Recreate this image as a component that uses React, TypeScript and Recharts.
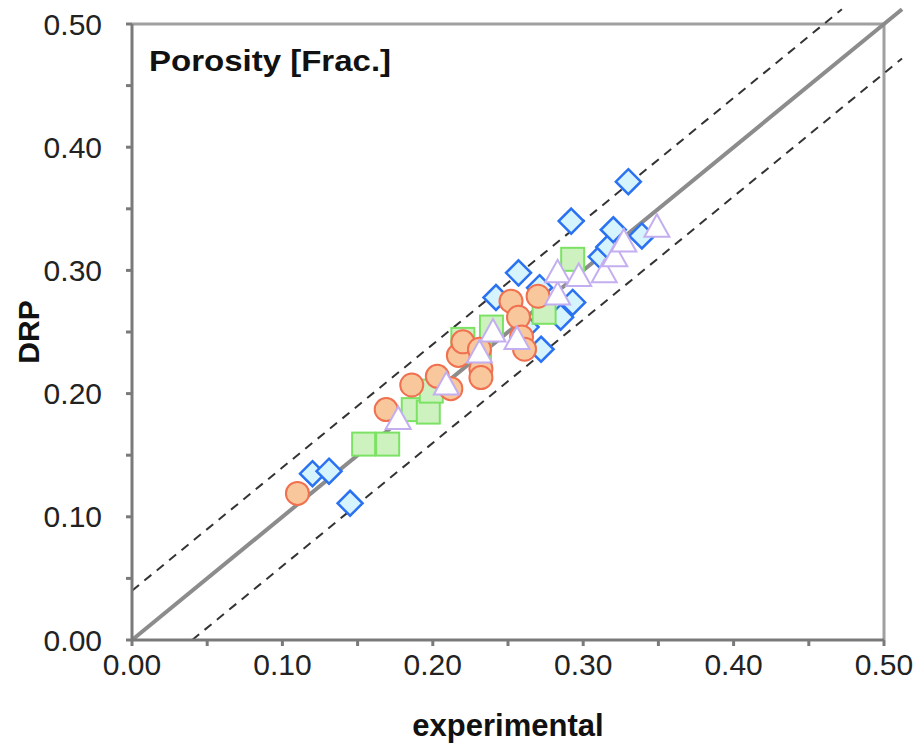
import {
  ScatterChart,
  Scatter,
  XAxis,
  YAxis,
  ReferenceLine,
} from "recharts";

// experimental vs DRP porosity
const circles = [
  { x: 0.11, y: 0.119 },
  { x: 0.169, y: 0.187 },
  { x: 0.186, y: 0.207 },
  { x: 0.203, y: 0.214 },
  { x: 0.212, y: 0.204 },
  { x: 0.217, y: 0.231 },
  { x: 0.22, y: 0.242 },
  { x: 0.231, y: 0.236 },
  { x: 0.232, y: 0.22 },
  { x: 0.232, y: 0.213 },
  { x: 0.252, y: 0.275 },
  { x: 0.257, y: 0.262 },
  { x: 0.259, y: 0.246 },
  { x: 0.261, y: 0.236 },
  { x: 0.27, y: 0.279 },
];

const squares = [
  { x: 0.154, y: 0.159 },
  { x: 0.17, y: 0.159 },
  { x: 0.187, y: 0.187 },
  { x: 0.197, y: 0.185 },
  { x: 0.199, y: 0.202 },
  { x: 0.22, y: 0.244 },
  { x: 0.231, y: 0.234 },
  { x: 0.239, y: 0.254 },
  { x: 0.274, y: 0.266 },
  { x: 0.293, y: 0.309 },
];

const diamonds = [
  { x: 0.12, y: 0.135 },
  { x: 0.131, y: 0.137 },
  { x: 0.145, y: 0.111 },
  { x: 0.242, y: 0.278 },
  { x: 0.257, y: 0.298 },
  { x: 0.262, y: 0.254 },
  { x: 0.271, y: 0.286 },
  { x: 0.272, y: 0.236 },
  { x: 0.285, y: 0.262 },
  { x: 0.293, y: 0.274 },
  { x: 0.292, y: 0.34 },
  { x: 0.312, y: 0.311 },
  { x: 0.317, y: 0.319 },
  { x: 0.32, y: 0.333 },
  { x: 0.339, y: 0.328 },
  { x: 0.33, y: 0.372 },
];

const triangles = [
  { x: 0.177, y: 0.179 },
  { x: 0.209, y: 0.207 },
  { x: 0.231, y: 0.233 },
  { x: 0.24, y: 0.25 },
  { x: 0.256, y: 0.244 },
  { x: 0.283, y: 0.28 },
  { x: 0.283, y: 0.298 },
  { x: 0.297, y: 0.295 },
  { x: 0.314, y: 0.298 },
  { x: 0.321, y: 0.311 },
  { x: 0.327, y: 0.323 },
  { x: 0.349, y: 0.335 },
];

const ticks = [0, 0.05, 0.1, 0.15, 0.2, 0.25, 0.3, 0.35, 0.4, 0.45, 0.5];

// 1:1 line and +/-0.04 band
const oneToOne = [
  { x: 0, y: 0 },
  { x: 0.512, y: 0.512 },
];
const upperBand = [
  { x: 0, y: 0.04 },
  { x: 0.472, y: 0.512 },
];
const lowerBand = [
  { x: 0.04, y: 0 },
  { x: 0.512, y: 0.472 },
];

const font = "'Liberation Sans', Arial, sans-serif";

const fmt = (v: number) =>
  Math.round(v * 100) % 10 === 0 ? v.toFixed(2) : "";

const Circle = (p: any) => (
  <circle cx={p.cx} cy={p.cy} r={11.5} fill="#f8c89c" stroke="#f07050" strokeWidth={2} />
);
const Square = (p: any) => (
  <rect x={p.cx - 11.5} y={p.cy - 11.5} width={23} height={23} fill="#cdf2c0" stroke="#7ce264" strokeWidth={2} />
);
const Diamond = (p: any) => (
  <polygon
    points={`${p.cx},${p.cy - 12.5} ${p.cx + 12.5},${p.cy} ${p.cx},${p.cy + 12.5} ${p.cx - 12.5},${p.cy}`}
    fill="#d6f4fe"
    stroke="#2a72f2"
    strokeWidth={2.5}
  />
);
const Triangle = (p: any) => (
  <polygon
    points={`${p.cx},${p.cy - 13} ${p.cx + 12.5},${p.cy + 9.5} ${p.cx - 12.5},${p.cy + 9.5}`}
    fill="#ffffff"
    stroke="#c3aef0"
    strokeWidth={2}
  />
);

export default function App() {
  return (
    <div style={{ position: "absolute", left: 0, top: 0, width: 922, height: 746, background: "#fff" }}>
      <ScatterChart
        width={922}
        height={746}
        margin={{ top: 24, right: 38, bottom: 0, left: 0 }}
      >
        <XAxis
          type="number"
          dataKey="x"
          domain={[0, 0.5]}
          ticks={ticks}
          tickFormatter={fmt}
          allowDataOverflow
          height={106}
          stroke="#7a7a7a"
          strokeWidth={3}
          tickSize={6}
          tickMargin={8}
          tick={{ fill: "#222", fontSize: 30, fontFamily: font }}
          label={{
            value: "experimental",
            position: "insideBottom",
            offset: 10,
            style: { fill: "#111", fontSize: 31, fontWeight: "bold", fontFamily: font },
          }}
        />
        <YAxis
          type="number"
          dataKey="y"
          domain={[0, 0.5]}
          ticks={ticks}
          tickFormatter={fmt}
          allowDataOverflow
          width={132}
          stroke="#7a7a7a"
          strokeWidth={3}
          tickSize={6}
          tickMargin={24}
          tick={{ fill: "#222", fontSize: 30, fontFamily: font }}
          label={{
            value: "DRP",
            angle: -90,
            position: "insideLeft",
            offset: 28,
            style: { textAnchor: "middle", fill: "#111", fontSize: 30, fontWeight: "bold", fontFamily: font },
          }}
        />
        <ReferenceLine y={0.5} stroke="#a0a0a0" strokeWidth={3} />
        <ReferenceLine x={0.5} stroke="#a0a0a0" strokeWidth={3} />
        <ReferenceLine
          segment={oneToOne}
          ifOverflow="visible"
          stroke="#8c8c8c"
          strokeWidth={4}
        />
        <ReferenceLine
          segment={upperBand}
          ifOverflow="visible"
          stroke="#333"
          strokeWidth={2}
          strokeDasharray="9 7"
        />
        <ReferenceLine
          segment={lowerBand}
          ifOverflow="visible"
          stroke="#333"
          strokeWidth={2}
          strokeDasharray="9 7"
        />
        <Scatter data={diamonds} shape={Diamond} isAnimationActive={false} />
        <Scatter data={squares} shape={Square} isAnimationActive={false} />
        <Scatter data={circles} shape={Circle} isAnimationActive={false} />
        <Scatter data={triangles} shape={Triangle} isAnimationActive={false} />
      </ScatterChart>
      <div
        style={{
          position: "absolute",
          left: 149,
          top: 44,
          fontFamily: font,
          fontWeight: "bold",
          fontSize: 30,
          color: "#111",
          transform: "scaleX(1.1)",
          transformOrigin: "left top",
          whiteSpace: "nowrap",
        }}
      >
        Porosity [Frac.]
      </div>
    </div>
  );
}
